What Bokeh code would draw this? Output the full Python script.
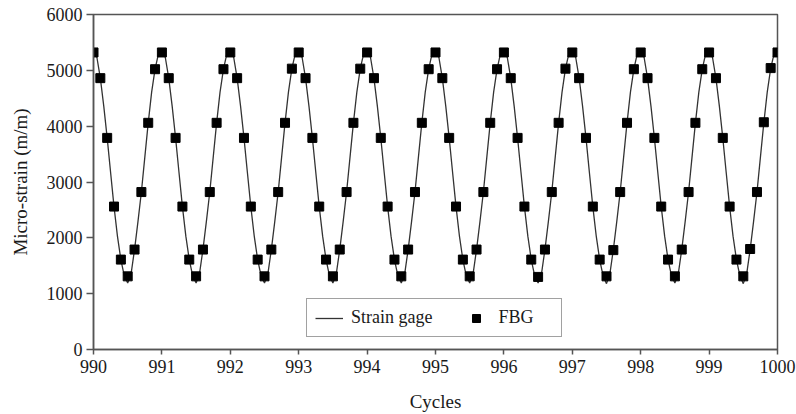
from bokeh.plotting import figure
from bokeh.models import Range1d, FixedTicker, Legend, LegendItem
from bokeh.embed import file_html
from bokeh.resources import INLINE

# ---- data ----
cycle_ticks = [990, 991, 992, 993, 994, 995, 996, 997, 998, 999, 1000]
strain_ticks = [0, 1000, 2000, 3000, 4000, 5000, 6000]

# strain gage trace, sampled every 0.05 cycle from 990 to 1000
gage_y = [
    5350, 5230, 4860, 4360, 3790, 3170, 2560, 2030, 1610, 1320, 1190, 1360, 1790, 2290, 2820, 3440, 4060, 4610, 5020, 5300,
    5350, 5230, 4860, 4360, 3790, 3170, 2560, 2030, 1610, 1320, 1190, 1360, 1790, 2290, 2820, 3440, 4060, 4610, 5020, 5300,
    5350, 5230, 4860, 4360, 3790, 3170, 2560, 2030, 1610, 1320, 1190, 1360, 1790, 2290, 2820, 3440, 4060, 4610, 5030, 5300,
    5350, 5230, 4860, 4360, 3790, 3170, 2560, 2030, 1610, 1320, 1190, 1360, 1790, 2290, 2820, 3440, 4060, 4610, 5030, 5300,
    5350, 5230, 4860, 4360, 3790, 3170, 2560, 2030, 1610, 1320, 1190, 1360, 1790, 2290, 2820, 3440, 4060, 4610, 5020, 5300,
    5350, 5230, 4860, 4360, 3790, 3170, 2560, 2030, 1610, 1320, 1190, 1360, 1790, 2290, 2820, 3440, 4060, 4610, 5020, 5300,
    5350, 5230, 4860, 4360, 3790, 3170, 2560, 2030, 1610, 1320, 1190, 1360, 1790, 2290, 2820, 3440, 4060, 4610, 5030, 5300,
    5350, 5230, 4860, 4360, 3790, 3170, 2560, 2030, 1610, 1320, 1180, 1360, 1790, 2290, 2820, 3440, 4060, 4610, 5020, 5300,
    5350, 5230, 4860, 4360, 3790, 3170, 2560, 2030, 1610, 1320, 1190, 1360, 1790, 2290, 2820, 3440, 4060, 4610, 5020, 5300,
    5350, 5230, 4860, 4360, 3790, 3170, 2560, 2030, 1610, 1320, 1180, 1360, 1790, 2290, 2820, 3440, 4060, 4610, 5030, 5300,
    5350,
]
gage_x = [990 + 0.05 * i for i in range(len(gage_y))]

# FBG readings, every 0.1 cycle from 990 to 1000
fbg_y = [
    5320, 4860, 3790, 2560, 1610, 1310, 1790, 2820, 4060, 5020,
    5320, 4860, 3790, 2560, 1610, 1310, 1790, 2820, 4060, 5020,
    5320, 4860, 3790, 2560, 1610, 1310, 1790, 2820, 4060, 5030,
    5320, 4860, 3790, 2560, 1610, 1310, 1790, 2820, 4060, 5030,
    5320, 4860, 3790, 2560, 1610, 1310, 1790, 2820, 4060, 5020,
    5320, 4860, 3790, 2560, 1610, 1310, 1790, 2820, 4060, 5020,
    5320, 4860, 3790, 2560, 1610, 1300, 1790, 2820, 4060, 5030,
    5320, 4860, 3790, 2560, 1610, 1310, 1780, 2820, 4060, 5020,
    5320, 4860, 3790, 2560, 1610, 1310, 1790, 2820, 4060, 5020,
    5320, 4860, 3790, 2560, 1610, 1310, 1800, 2820, 4070, 5040,
    5320,
]
fbg_x = [round(990 + 0.1 * i, 2) for i in range(len(fbg_y))]

FONT = "Liberation Serif"
AXC = "#555555"

p = figure(width=796, height=414, output_backend="svg", toolbar_location=None,
           x_range=Range1d(990, 1000), y_range=Range1d(0, 6000),
           min_border_left=93, min_border_right=19, min_border_top=14, min_border_bottom=64,
           background_fill_color="white", border_fill_color="white")
p.grid.visible = False
p.outline_line_color = AXC
p.outline_line_width = 1.5

p.xaxis.ticker = FixedTicker(ticks=cycle_ticks, minor_ticks=[])
p.yaxis.ticker = FixedTicker(ticks=strain_ticks, minor_ticks=[])
for ax in (p.xaxis[0], p.yaxis[0]):
    ax.axis_line_color = AXC
    ax.axis_line_width = 1.5
    ax.major_tick_line_color = AXC
    ax.major_tick_line_width = 1.5
    ax.major_tick_in = 0
    ax.minor_tick_out = 0
    ax.minor_tick_in = 0
    ax.major_label_text_font = FONT
    ax.major_label_text_font_size = "18px"
    ax.major_label_text_color = "#1a1a1a"
    ax.axis_label_text_font = FONT
    ax.axis_label_text_font_size = "19px"
    ax.axis_label_text_font_style = "normal"
    ax.axis_label_text_color = "#1a1a1a"
p.xaxis.major_tick_out = 5
p.yaxis.major_tick_out = 7
p.xaxis.major_label_standoff = 5
p.yaxis.major_label_standoff = 4
p.xaxis.axis_label = "Cycles"
p.yaxis.axis_label = "Micro-strain (m/m)"
p.xaxis.axis_label_standoff = 15
p.yaxis.axis_label_standoff = 13

line_r = p.line(gage_x, gage_y, line_color="#333333", line_width=1.3)
sq_r = p.scatter(fbg_x, fbg_y, marker="square", size=9, fill_color="black", line_color="black")

legend = Legend(items=[LegendItem(label="Strain gage", renderers=[line_r]),
                       LegendItem(label="FBG", renderers=[sq_r])],
                orientation="horizontal", location=(213, 12),
                border_line_color="#444444", border_line_width=1.5,
                padding=8, spacing=30, glyph_width=28, glyph_height=20,
                label_standoff=8, label_width=55, margin=0,
                label_text_font=FONT, label_text_font_size="18px",
                label_text_color="#1a1a1a", background_fill_alpha=1.0)
p.add_layout(legend, "center")

open("out.html", "w").write(file_html(p, INLINE))
